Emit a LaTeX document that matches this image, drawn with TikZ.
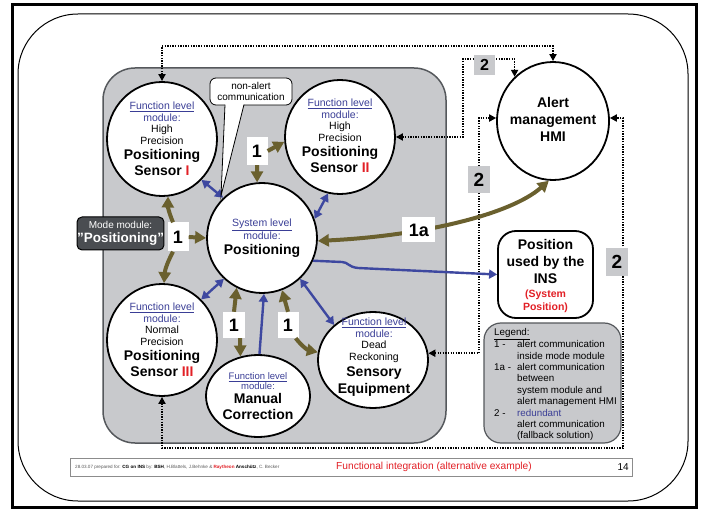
\documentclass[tikz,border=0pt]{standalone}
\usepackage{fontspec}
\setmainfont{Liberation Sans}
\usetikzlibrary{shapes.geometric,arrows.meta,calc}

\definecolor{panel}{RGB}{200,201,204}
\definecolor{edgegray}{RGB}{85,88,92}
\definecolor{modebox}{RGB}{74,77,81}
\definecolor{linkblue}{RGB}{62,72,160}
\definecolor{textblue}{RGB}{58,62,150}
\definecolor{alertred}{RGB}{226,32,38}
\definecolor{alertolive}{RGB}{106,96,46}

\newcommand{\modnote}{\fontsize{10.5}{11.6}\selectfont}
\newcommand{\modtitle}{\fontsize{14}{17}\selectfont\bfseries}
\newcommand{\funclevel}{\textcolor{textblue}{\underline{Function level}}\\\textcolor{textblue}{module:}}

\tikzset{
  module/.style={ellipse, draw=black, line width=1.8pt, fill=white, inner sep=0pt},
  modtext/.style={align=center, inner sep=0pt, font=\modnote},
  tagone/.style={fill=white, inner sep=0pt, font=\bfseries\fontsize{18}{18}\selectfont},
  tagtwo/.style={fill=panel, inner sep=0pt, font=\bfseries\fontsize{19}{19}\selectfont},
  alertlink/.style={draw=alertolive, line width=4pt, -{Triangle[length=11pt,width=12pt]}},
  alertboth/.style={draw=alertolive, line width=4pt, {Triangle[length=11pt,width=12pt]}-{Triangle[length=11pt,width=12pt]}},
  datalink/.style={draw=linkblue, line width=2.4pt, {Triangle[length=8pt,width=9pt]}-{Triangle[length=8pt,width=9pt]}},
  dataone/.style={draw=linkblue, line width=2.4pt, -{Triangle[length=8pt,width=9pt]}},
  fallback/.style={draw=black, line width=1.8pt, dash pattern=on 1.3pt off 1.3pt,
    {Triangle[length=7pt,width=7pt]}-{Triangle[length=7pt,width=7pt]}},
}

\begin{document}
\begin{tikzpicture}[x=1pt,y=1pt]
\useasboundingbox (0,0) rectangle (703,-510);
\fill[white] (0,0) rectangle (703,-510);

% slide frames
\draw[line width=3pt] (12,-5) rectangle (696,-507);
\draw[line width=1pt, rounded corners=60pt] (18,-14) rectangle (688,-501);

% mode module panel
\draw[draw=edgegray, fill=panel, line width=1.5pt, rounded corners=32pt] (103,-68) rectangle (446,-443);

% legend panel
\draw[draw=edgegray, fill=panel, line width=1.2pt, rounded corners=17pt] (484,-323) rectangle (621,-443);
\node[anchor=north west, inner sep=0pt, font=\fontsize{9.8}{11.4}\selectfont] (legend) at (494,-327.5) {%
\begin{tabular}{@{}p{23pt}@{}l@{}}
\multicolumn{2}{@{}l}{\underline{Legend:}}\\
1 - & alert communication\\
    & inside mode module\\
1a - & alert communication\\
    & between\\
    & system module and\\
    & alert management HMI\\
2 - & \textcolor{textblue}{redundant}\\
    & alert communication\\
    & (fallback solution)
\end{tabular}};

% modules
\node[module, minimum width=110pt, minimum height=114pt] (s1) at (162,-139) {};
\node[module, minimum width=110pt, minimum height=114pt] (s2) at (340,-137) {};
\node[module, minimum width=110pt, minimum height=110pt] (pos) at (262,-238) {};
\node[module, minimum width=110pt, minimum height=112pt] (s3) at (162,-340) {};
\node[module, minimum width=104pt, minimum height=82pt] (man) at (258,-396) {};
\node[module, minimum width=110pt, minimum height=96pt] (se) at (373,-360) {};
\node[module, minimum width=112pt, minimum height=118pt] (hmi) at (553,-121) {};
\node[draw=black, line width=1.8pt, fill=white, rounded corners=18pt,
      minimum width=95pt, minimum height=87pt] (ins) at (545.5,-274.5) {};

% module texts
\node[modtext] (s1t) at (162,-139) {\funclevel\\High\\Precision\\[3pt]{\modtitle Positioning}\\[3pt]{\modtitle Sensor \textcolor{alertred}{I}}};
\node[modtext] (s2t) at (340,-136) {\funclevel\\High\\Precision\\[3pt]{\modtitle Positioning}\\[3pt]{\modtitle Sensor \textcolor{alertred}{II}}};
\node[modtext] (s3t) at (162,-340) {\funclevel\\Normal\\Precision\\[3pt]{\modtitle Positioning}\\[3pt]{\modtitle Sensor \textcolor{alertred}{III}}};
\node[modtext] (post) at (262,-238) {\textcolor{textblue}{\underline{System level}}\\\textcolor{textblue}{module:}\\[3pt]{\modtitle Positioning}};
\node[modtext, font=\fontsize{9.5}{10}\selectfont] (mant) at (258,-396) {\funclevel\\[3pt]{\modtitle Manual}\\[4pt]{\modtitle Correction}};
\node[modtext] (set) at (374,-357) {\funclevel\\Dead\\Reckoning\\[3pt]{\modtitle Sensory}\\[3pt]{\modtitle Equipment}};
\node[modtext, font=\modtitle] (hmit) at (553,-119) {Alert\\management\\HMI};
\node[modtext, font=\modtitle] (inst) at (545.5,-276.5) {Position\\used by the\\INS\\[-3pt]{\color{alertred}\fontsize{10.5}{12}\selectfont (System}\\[-4pt]{\color{alertred}\fontsize{10.5}{12}\selectfont Position)}};

% fallback (redundant) alert communication
\draw[fallback] (s1.north) -- (s1.north |- 0,-46) -- (hmi.north |- 0,-46) -- (hmi.north);
\draw[fallback] (s2.east) -- (s2.east -| 463,0) -- (463,-59) -- (hmi.131 |- 0,-59) -- (hmi.131);
\draw[fallback] (se.7) -- (se.7 -| 479,0) -- (hmi.177 -| 479,0) -- (hmi.177);
\draw[fallback] (s3.south) -- (s3.south |- 0,-448) -- (623,-448) -- (hmi.3 -| 623,0) -- (hmi.3);
\node[tagtwo, minimum width=21pt, minimum height=20pt, font=\bfseries\fontsize{16}{16}\selectfont] (t2a) at (484.5,-65) {2};
\node[tagtwo, minimum width=22pt, minimum height=27pt] (t2b) at (479,-179.5) {2};
\node[tagtwo, minimum width=22pt, minimum height=28pt] (t2c) at (617,-262) {2};

% alert communication inside the mode module
\node[tagone, minimum width=21pt, minimum height=28pt] (l1) at (257,-151) {1};
\node[tagone, minimum width=21pt, minimum height=29pt] (l2) at (178,-237) {1};
\node[tagone, minimum width=22pt, minimum height=26pt] (l3) at (234,-325) {1};
\node[tagone, minimum width=21pt, minimum height=26pt] (l4) at (288,-325) {1};

\draw[alertlink] (l1.east) -- (s2.185);
\draw[alertlink] (l1.south) -- (pos.95);
\draw[alertlink] (l2.east) -- (pos.west);
\draw[alertlink] ([xshift=-5pt]l2.north) to[bend left=12] (s1.276);
\draw[alertlink] ([xshift=-5pt]l2.south) to[bend right=12] (s3.88);
\draw[alertlink] (l3.north) -- (pos.243);
\draw[alertlink] ([xshift=6pt]l3.south) -- (man.114);
\draw[alertlink] (l4.north) -- (pos.291);
\draw[alertlink] ([xshift=-3pt]l4.south east) to[bend right=20] (se.172);

% alert communication between system module and HMI
\draw[alertboth] (pos.357) .. controls (420,-236) and (510,-215) .. (hmi.266)
  node[pos=0.35, tagone, minimum width=33pt, minimum height=25pt] (l1a) {1a};

% data exchange
\draw[datalink] (s1.314) -- (pos.134);
\draw[datalink] (s2.258) -- (pos.20);
\draw[datalink] (s3.46) -- (pos.227);
\draw[datalink] (se.138) -- (pos.313);
\draw[dataone] (man.88) -- (pos.272);
\draw[dataone] (pos.336) -- (342,-262) .. controls (348,-262) and (348,-267) .. (358,-268) -- (ins.west);

% mode module label
\node[fill=modebox, draw=black, line width=1pt, rounded corners=5pt, minimum width=85pt,
      minimum height=33pt, inner sep=0pt, text=white, align=center, font=\fontsize{10}{12}\selectfont]
  (mode) at (120.5,-233.5) {Mode module:\\[1.5pt]{\bfseries\fontsize{13.5}{14}\selectfont "Positioning"}};

% non-alert callout
\node[draw=black, line width=0.8pt, fill=white, rounded corners=6pt, minimum width=82pt,
      minimum height=27pt, inner sep=0pt, align=center, font=\fontsize{10}{11}\selectfont]
  (nac) at (251,-91.5) {non-alert\\communication};
\fill[white] (225,-104.2) -- (221,-196) -- (244,-104.2) -- cycle;
\draw[line width=0.8pt] (225,-104.6) -- (221,-196) -- (244,-104.6);

% footer
\draw[draw=black!45, fill=white, line width=0.8pt] (70,-458) rectangle (632,-476);
\node[anchor=west, inner sep=0pt, text=black!65, font=\fontsize{4.6}{5}\selectfont] (foot) at (75,-467)
  {28.03.07 prepared for: \textbf{\color{black}CG on INS} by: \textbf{\color{black}BSH}, H.Blattels, J.Behnke \& \textbf{\color{alertred}Raytheon} \textbf{\color{black}Anschütz}, C. Becker};
\node[inner sep=0pt, text=alertred, font=\fontsize{10.2}{12}\selectfont] (ftitle) at (434,-467) {Functional integration (alternative example)};
\node[anchor=east, inner sep=0pt, font=\fontsize{10}{12}\selectfont] (fpage) at (629,-467) {14};
\end{tikzpicture}
\end{document}
